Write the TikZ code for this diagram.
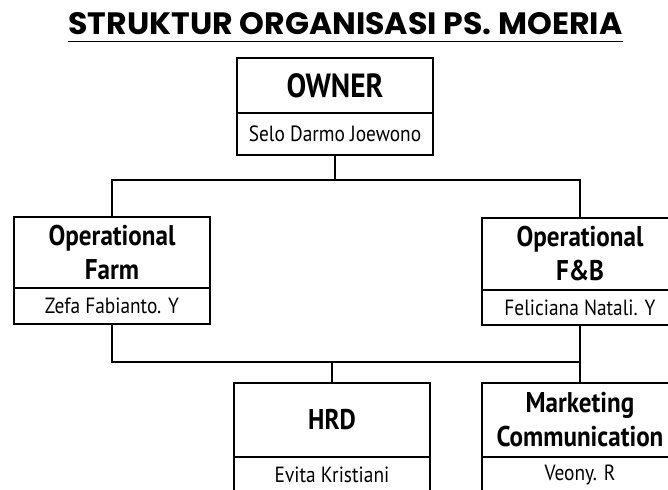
\documentclass[tikz,border=0pt]{standalone}
\usepackage{graphicx}
\usepackage{fontspec}
\setmainfont{PT Sans}
\newfontfamily\boxfont[FakeStretch=0.88]{PT Sans}
\newfontfamily\titlefont{Poppins}
\usetikzlibrary{positioning}

\begin{document}
\begin{tikzpicture}[
x=1pt, y=-1pt,
orgbox/.style={draw, line width=1.6pt, minimum width=196pt, inner sep=0pt, outer sep=0pt, align=center},
headbox/.style={orgbox, font=\boxfont\bfseries\fontsize{28.5}{34}\selectfont},
bigheadbox/.style={orgbox, font=\boxfont\bfseries\fontsize{33.5}{34}\selectfont},
namebox/.style={orgbox, minimum height=36pt, font=\boxfont\fontsize{22}{24}\selectfont},
link/.style={line width=1.6pt}
]
\useasboundingbox (0,0) rectangle (668,489);
\clip (0,0) rectangle (668,489);

\node[inner sep=0pt] (title) at (345.5,24)
    {\titlefont\bfseries\resizebox{554pt}{22pt}{STRUKTUR ORGANISASI PS. MOERIA}};
\draw[line width=1.5pt] ([yshift=-6pt]title.south west) -- ([yshift=-6pt]title.south east);

\node[bigheadbox, minimum height=55pt] (ownh) at (335,85.5) {OWNER};
\node[namebox, minimum height=42pt, below=0pt of ownh] (ownn) {Selo Darmo Joewono};

\node[headbox, minimum height=71pt] (farmh) at (112,252.5) {Operational\\Farm};
\node[namebox, below=0pt of farmh] (farmn) {Zefa Fabianto. Y};

\node[headbox, minimum height=72pt] (fbh) at (580,254) {Operational\\F\&B};
\node[namebox, minimum height=35pt, below=0pt of fbh] (fbn) {Feliciana Natali. Y};

\node[headbox, minimum height=74pt] (hrdh) at (332,420) {HRD};
\node[namebox, below=0pt of hrdh] (hrdn) {Evita Kristiani};

\node[headbox, minimum height=74pt] (mkth) at (580,420) {Marketing\\Communication};
\node[namebox, below=0pt of mkth] (mktn) {Veony. R};

\coordinate (top) at (ownn.south |- 0,180);
\coordinate (mid) at (hrdh.north |- 0,362);

\draw[link] (ownn.south) -- (top);
\draw[link] (farmh.north) |- (top) -| (fbh.north);
\draw[link] (farmn.south) |- (mid) -| (fbn.south);
\draw[link] (mid) -- (hrdh.north);
\draw[link] (fbn.south) -- (mkth.north);
\end{tikzpicture}
\end{document}
